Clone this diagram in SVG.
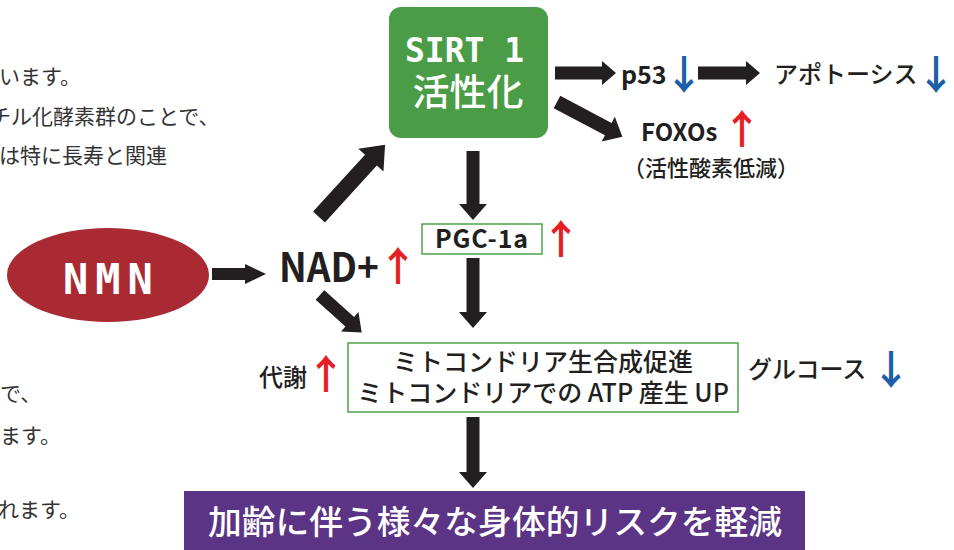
<svg xmlns="http://www.w3.org/2000/svg" width="954" height="550" viewBox="0 0 954 550">
<style>
.jp{font-family:"Noto Sans CJK JP","Noto Sans",sans-serif;}
.body{font-size:21px;fill:#333;font-weight:400;}
.lbl{fill:#231f20;font-weight:500;}
.b{font-weight:700;}
.up{fill:#e61f26;font-size:40px;font-weight:700;text-anchor:middle;}
.dn{fill:#1d5ea8;font-size:40px;font-weight:700;text-anchor:middle;}
.arr{fill:#231f20;}
.box{fill:#fff;stroke:#4ea24a;stroke-width:1.5;}
</style>
<rect width="954" height="550" fill="#fff"/>
<g id="bg-text" class="jp body">
<text x="-1" y="84">います。</text>
<text x="-10" y="124">チル化酵素群のことで、</text>
<text x="-1" y="163">は特に長寿と関連</text>
<text x="0" y="401">で、</text>
<text x="0" y="443">ます。</text>
<text x="-2" y="517">れます。</text>
</g>
<g id="connectors">
<polygon class="arr" points="0,-6 33,-6 33,-10 54,0 33,10 33,6 0,6" transform="translate(212,274)"/>
<polygon class="arr" points="0,-8 77,-8 77,-17 98,0 77,17 77,8 0,8" transform="translate(319,217) rotate(-47.6)"/>
<polygon class="arr" points="0,-6.5 40,-6.5 40,-13 56,0 40,13 40,6.5 0,6.5" transform="translate(320,295) rotate(41.9)"/>
<polygon class="arr" points="0,-6.5 53,-6.5 53,-14 69,0 53,14 53,6.5 0,6.5" transform="translate(473,151) rotate(90)"/>
<polygon class="arr" points="0,-6.5 54,-6.5 54,-14 70,0 54,14 54,6.5 0,6.5" transform="translate(473,258) rotate(90)"/>
<polygon class="arr" points="0,-6.5 55,-6.5 55,-14 71,0 55,14 55,6.5 0,6.5" transform="translate(473,417) rotate(90)"/>
<polygon class="arr" points="0,-6.5 47,-6.5 47,-12 61,0 47,12 47,6.5 0,6.5" transform="translate(555,73)"/>
<polygon class="arr" points="0,-6.5 48,-6.5 48,-12 62,0 48,12 48,6.5 0,6.5" transform="translate(698,73)"/>
<polygon class="arr" points="0,-7 58,-7 58,-14 74,0 58,14 58,7 0,7" transform="translate(557,102) rotate(27.9)"/>
</g>
<g id="nmn">
<ellipse cx="108" cy="275" rx="101" ry="47" fill="#a92a32"/>
<text x="63" y="294" font-family="DejaVu Sans Mono,monospace" font-weight="700" font-size="42" letter-spacing="7" fill="#fff">NMN</text>
</g>
<g id="nad">
<text class="jp lbl b" x="279" y="282" font-size="40" textLength="100" lengthAdjust="spacingAndGlyphs">NAD+</text>
<text class="jp up" x="398" y="281">↑</text>
</g>
<g id="sirt1">
<rect x="389" y="7" width="159" height="131" rx="12" fill="#4a9c47"/>
<text x="405" y="62" font-family="DejaVu Sans Mono,monospace" font-weight="700" font-size="33" fill="#fff">SIRT 1</text>
<text class="jp" x="468" y="106" font-size="37" font-weight="500" fill="#fff" text-anchor="middle">活性化</text>
</g>
<g id="p53">
<text class="jp lbl b" x="621" y="84" font-size="25">p53</text>
<text class="jp dn" x="684" y="89">↓</text>
</g>
<g id="apoptosis">
<text class="jp lbl" x="774" y="83" font-size="24" font-weight="400">アポトーシス</text>
<text class="jp dn" x="936" y="89">↓</text>
</g>
<g id="foxos">
<text class="jp lbl b" x="641" y="141" font-size="24">FOXOs</text>
<text class="jp up" x="742" y="144">↑</text>
<text class="jp lbl" x="623" y="176" font-size="22">（活性酸素低減）</text>
</g>
<g id="pgc">
<rect class="box" x="422" y="224" width="120" height="30"/>
<text class="jp lbl b" x="435" y="248" font-size="25" textLength="93" lengthAdjust="spacing">PGC-1a</text>
<text class="jp up" x="561" y="254">↑</text>
</g>
<g id="mito">
<rect class="box" x="348" y="343" width="390" height="69"/>
<text class="jp lbl" x="543" y="371" font-size="25" text-anchor="middle">ミトコンドリア生合成促進</text>
<text class="jp lbl" x="543" y="402" font-size="25" text-anchor="middle">ミトコンドリアでの ATP 産生 UP</text>
</g>
<g id="metabolism">
<text class="jp lbl" x="259" y="386" font-size="24">代謝</text>
<text class="jp up" x="326" y="389">↑</text>
</g>
<g id="glucose">
<text class="jp lbl" x="748" y="378" font-size="24" font-weight="400">グルコース</text>
<text class="jp dn" x="891" y="384">↓</text>
</g>
<g id="result">
<rect x="184" y="491" width="621" height="59" fill="#5b3486"/>
<text class="jp" x="208" y="534" font-size="33" font-weight="500" fill="#fff" textLength="574" lengthAdjust="spacingAndGlyphs">加齢に伴う様々な身体的リスクを軽減</text>
</g>
</svg>
